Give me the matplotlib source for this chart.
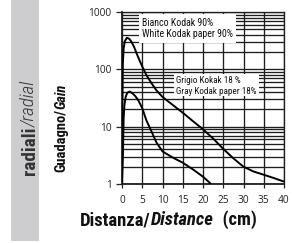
import matplotlib
matplotlib.use('Agg')
import matplotlib.pyplot as plt
from matplotlib.patches import Rectangle
from matplotlib.ticker import LogLocator, NullFormatter
from matplotlib import font_manager as fm

FONT = 'Open Sans'
W, H = 292, 243

# ---- data ----
distance_white = [0, 0.08, 0.2, 0.4, 0.7, 1.2, 1.8, 2.3, 3.0, 3.6, 4.3, 5.0, 6.0, 7.3, 8.5,
                  10, 12.5, 15, 17.5, 20, 22.5, 25, 27.5, 30, 32.5, 35, 37.5, 40]
gain_white = [1, 20, 120, 230, 310, 355, 340, 305, 245, 190, 145, 112, 80, 57, 43,
              33, 24, 17.5, 12.5, 9, 6.2, 4.1, 2.8, 2.0, 1.65, 1.45, 1.27, 1.1]
distance_gray = [0, 0.25, 0.4, 0.6, 0.9, 1.3, 1.9, 2.6, 3.3, 4.0, 5.0, 6.0, 7.3, 8.5,
                 10, 12.5, 15, 17.5, 20, 22]
gain_gray = [1, 3.7, 14, 24, 33, 39, 41, 38, 34, 29, 21, 13, 8.2, 5.3,
             3.7, 2.9, 2.35, 1.8, 1.34, 1.0]
x_ticks = [0, 5, 10, 15, 20, 25, 30, 35, 40]
y_ticks = [1, 10, 100, 1000]
y_tick_labels = ['1', '10', '100', '1000']
label_white = ['Bianco Kodak 90%', 'White Kodak paper 90%']
label_gray = ['Grigio Kokak 18 %', 'Gray Kodak paper 18%']

plt.rcParams['font.family'] = [FONT, 'DejaVu Sans']

# pick a narrow family for the titles if one is installed
_names = {f.name for f in fm.fontManager.ttflist}
_stretch = {(f.name, f.stretch) for f in fm.fontManager.ttflist}
NARROW = dict(family=FONT)
for cand in ['Liberation Sans Narrow', 'DejaVu Sans Condensed', 'Roboto Condensed',
             'Open Sans Condensed', 'Noto Sans Condensed']:
    if cand in _names:
        NARROW = dict(family=cand)
        break
else:
    for (n, st) in _stretch:
        if n == 'DejaVu Sans' and str(st) in ('condensed', '500', 'semi-condensed'):
            NARROW = dict(family='DejaVu Sans', fontstretch='condensed')
            break

fig = plt.figure(figsize=(W / 100, H / 100), dpi=100)
fig.patch.set_facecolor('white')

# left grey band
fig.patches.append(Rectangle((11, H - 241), 28, 241, transform=None,
                             facecolor='#cdcdcf', edgecolor='none', zorder=0))

ax = fig.add_axes([122 / W, (H - 184) / H, 162 / W, 172 / H])
ax.set_yscale('log')
ax.set_xlim(0, 40)
ax.set_ylim(1, 1000)

grid_kw = dict(color='#1e1e1e', linewidth=0.95)
ax.yaxis.set_minor_locator(LogLocator(base=10, subs=range(2, 10)))
ax.yaxis.set_minor_formatter(NullFormatter())
ax.grid(True, which='both', axis='y', **grid_kw)
ax.grid(True, which='major', axis='x', **grid_kw)

ax.plot(distance_white, gain_white, color='black', lw=1.4, zorder=5,
        solid_joinstyle='round', solid_capstyle='butt')
ax.plot(distance_gray, gain_gray, color='black', lw=1.4, zorder=5,
        solid_joinstyle='round', solid_capstyle='butt')

ax.set_xticks(x_ticks)
ax.set_xticklabels([str(v) for v in x_ticks])
ax.set_yticks(y_ticks)
ax.set_yticklabels(y_tick_labels)
ax.tick_params(which='minor', length=0)
ax.tick_params(axis='x', which='major', direction='out', length=3, width=0.9,
               pad=5, labelsize=7.3, colors='#222222')
ax.tick_params(axis='y', which='major', direction='out', length=4, width=0.9,
               pad=3.5, labelsize=7.3, colors='#222222')
for s in ax.spines.values():
    s.set_color('#1e1e1e')
    s.set_linewidth(0.95)
ax.spines['left'].set_linewidth(1.3)
ax.spines['bottom'].set_linewidth(1.3)

# white label boxes
ax.add_patch(Rectangle((139, H - 43), 97, 29, transform=None, facecolor='white',
                       edgecolor='none', zorder=3))
ax.add_patch(Rectangle((173.5, H - 96), 85.5, 22, transform=None, facecolor='white',
                       edgecolor='none', zorder=3))

renderer = fig.canvas.get_renderer()


def seq(pieces, x0, y0, length, rotation=0, color='black', base=10, fs=None):
    """Draw a run of differently styled text pieces; x0,y0 = baseline start (pixels from top-left)."""
    texts = []
    for s, kw in pieces:
        t = fig.text(0, 0, s, transform=None, rotation=rotation, rotation_mode='anchor',
                     ha='left', va='baseline', color=color, fontsize=base, **kw)
        texts.append(t)

    def lens():
        out = []
        for t in texts:
            bb = t.get_window_extent(renderer)
            out.append(bb.width if rotation == 0 else bb.height)
        return out

    if fs is None:
        total = sum(lens())
        fs = base * length / total
    for t in texts:
        t.set_fontsize(fs)
    pos = 0
    for t, l in zip(texts, lens()):
        if rotation == 0:
            t.set_position((x0 + pos, H - y0))
        else:
            t.set_position((x0, H - y0 + pos))
        pos += l
    return fs


# annotation labels (same size on both lines)
fs_w = seq([(label_white[1], NARROW)], 141.7, 36.5, 91.5, color='#111111')
seq([(label_white[0], NARROW)], 141.7, 25.7, 0, color='#111111', fs=fs_w)
fs_g = seq([(label_gray[1], NARROW)], 176, 93.5, 80.5, color='#111111')
seq([(label_gray[0], NARROW)], 176, 83, 0, color='#111111', fs=fs_g)

# axis titles
seq([('Distanza/', dict(fontweight='bold', **NARROW)),
     ('Distance', dict(fontweight='bold', style='italic', **NARROW)),
     ('  (cm)', dict(fontweight='bold', **NARROW))], 80, 225, 177, color='#111111')
seq([('Guadagno/', dict(fontweight='bold', **NARROW)),
     ('Gain', dict(fontweight='bold', style='italic', **NARROW))], 65, 172, 88,
    rotation=90, color='#111111')
seq([('radiali', dict(fontweight='bold', **NARROW)),
     ('/radial', dict(fontweight='light', style='italic', **NARROW))], 34.5, 175, 95,
    rotation=90, color='#333333')

fig.savefig('out.png', dpi=100, facecolor='white')
